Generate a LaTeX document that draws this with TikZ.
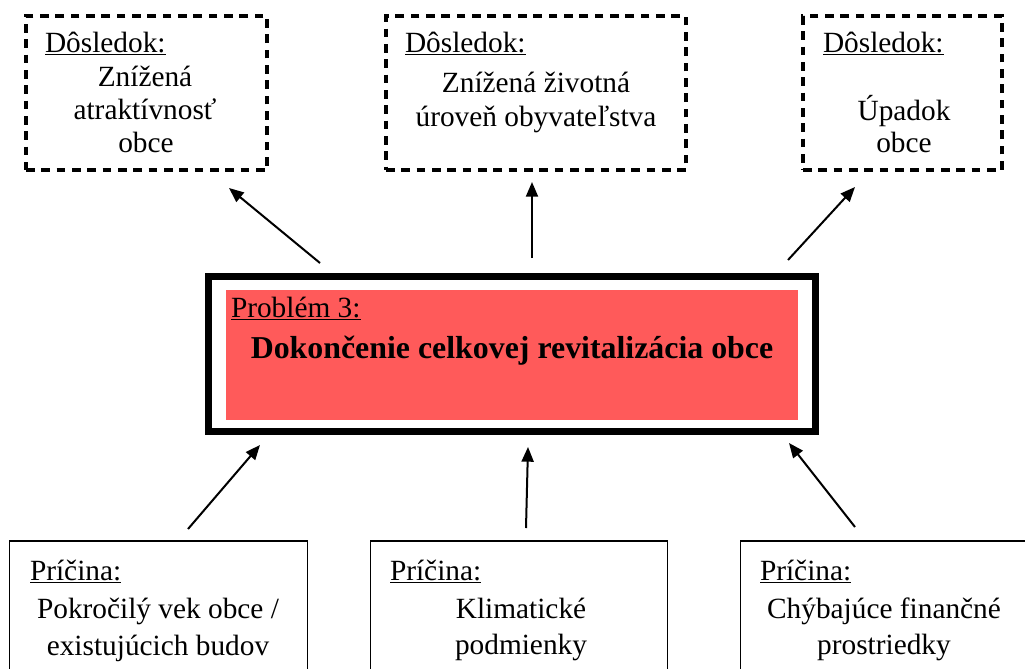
\documentclass[tikz,border=0pt]{standalone}
\usepackage{fontspec}
\setmainfont{Liberation Serif}
\usetikzlibrary{arrows.meta}
\definecolor{probred}{RGB}{255,90,90}
\begin{document}
\begin{tikzpicture}[x=0.75pt,y=-0.75pt,
  every node/.style={outer sep=0pt},
  dbox/.style={draw, dash pattern=on 6.5pt off 5pt, line width=2.4pt, anchor=north west, inner sep=0, minimum height=115.5pt},
  sbox/.style={draw, line width=1pt, anchor=north west, inner sep=0, minimum height=119.25pt},
  lab/.style={anchor=base west, inner sep=0, font=\fontsize{22}{26}\selectfont},
  txt/.style={anchor=base, inner sep=0, font=\fontsize{22}{26}\selectfont},
  conn/.style={line width=1.5pt, -{Triangle[length=11pt,width=9pt]}}
]
\useasboundingbox (0,0) rectangle (1025,668);

% consequence boxes
\node (d1) [dbox, minimum width=180.75pt] at (26,16) {};
\node (d2) [dbox, minimum width=225pt] at (386,16) {};
\node (d3) [dbox, minimum width=149.25pt] at (803,16) {};

\node (d1l) [lab] at (45,52) {\underline{Dôsledok:}};
\node (d1a) [txt] at (145,86) {Znížená};
\node (d1b) [txt] at (145,119) {atraktívnosť};
\node (d1c) [txt] at (146,152) {obce};

\node (d2l) [lab] at (405,52) {\underline{Dôsledok:}};
\node (d2a) [txt] at (536,92) {Znížená životná};
\node (d2b) [txt] at (536,126) {úroveň obyvateľstva};

\node (d3l) [lab] at (823,52) {\underline{Dôsledok:}};
\node (d3a) [txt] at (904,120) {Úpadok};
\node (d3b) [txt] at (904,152) {obce};

% problem box
\node (pb) [draw, line width=5.25pt, anchor=north west, inner sep=0, minimum width=455.25pt, minimum height=116.25pt] at (208.5,276.5) {};
\node (pr) [fill=probred, anchor=north west, inner sep=0, minimum width=429pt, minimum height=97.5pt] at (226,290) {};
\node (pl) [lab] at (231,317) {\underline{Problém 3:}};
\node (pt) [anchor=base, inner sep=0, font=\fontsize{23.9}{28}\selectfont\bfseries] at (512,358) {Dokončenie celkovej revitalizácia obce};

% cause boxes
\node (c1) [sbox, minimum width=223.5pt] at (9.5,541) {};
\node (c2) [sbox, minimum width=222.75pt] at (370.5,541) {};
\node (c3) [sbox, minimum width=222.75pt] at (740.5,541) {};

\node (c1l) [lab] at (30,580) {\underline{Príčina:}};
\node (c1a) [txt] at (158,618) {Pokročilý vek obce /};
\node (c1b) [txt] at (158,655) {existujúcich budov};

\node (c2l) [lab] at (390,580) {\underline{Príčina:}};
\node (c2a) [txt] at (521,618) {Klimatické};
\node (c2b) [txt] at (521,654) {podmienky};

\node (c3l) [lab] at (760,580) {\underline{Príčina:}};
\node (c3a) [txt] at (884,618) {Chýbajúce finančné};
\node (c3b) [txt] at (884,654) {prostriedky};

% connector end points
\coordinate (a1s) at (320,263); \coordinate (a1e) at (229,188);
\coordinate (a2s) at (532,258); \coordinate (a2e) at (532,182);
\coordinate (a3s) at (788,260); \coordinate (a3e) at (855,187);
\coordinate (b1s) at (188,529); \coordinate (b1e) at (260,445);
\coordinate (b2s) at (526,528); \coordinate (b2e) at (528,447);
\coordinate (b3s) at (855,527); \coordinate (b3e) at (789,443);

\draw[conn] (a1s) -- (a1e);
\draw[conn] (a2s) -- (a2e);
\draw[conn] (a3s) -- (a3e);
\draw[conn] (b1s) -- (b1e);
\draw[conn] (b2s) -- (b2e);
\draw[conn] (b3s) -- (b3e);
\end{tikzpicture}
\end{document}
